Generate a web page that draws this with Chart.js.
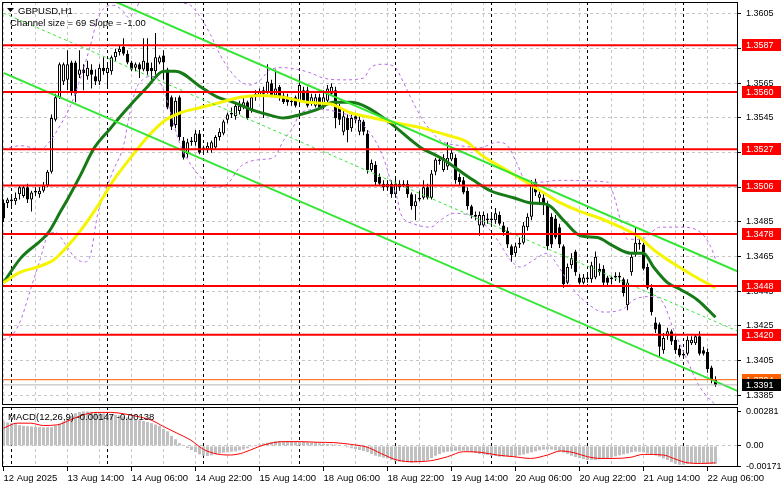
<!DOCTYPE html>
<html>
<head>
<meta charset="utf-8">
<title>GBPUSD,H1</title>
<script src="https://cdn.jsdelivr.net/npm/chart.js@4.4.1/dist/chart.umd.min.js"></script>
<style>
  html, body { margin: 0; padding: 0; background: #fff; }
  #wrap { position: relative; width: 781px; height: 489px; overflow: hidden; }
  canvas { position: absolute; left: 0; }
  #main { top: 0; }
  #macd { top: 407px; }
</style>
</head>
<body>
<div id="wrap">
  <canvas id="main" width="781" height="407"></canvas>
  <canvas id="macd" width="781" height="82"></canvas>
</div>
<script>
// H1 bars, 12 Aug 22:00 .. 22 Aug 08:00 (bar index 0..178)
const opens = [
  1.3496,1.3496,1.3497,1.3497,1.3501,1.3500,1.3505,1.3498,1.3503,1.3501,
  1.3503,1.3506,1.3514,1.3544,1.3557,1.3566,1.3567,1.3577,1.3577,1.3570,
  1.3573,1.3569,1.3573,1.3569,1.3566,1.3574,1.3571,1.3572,1.3580,1.3583,
  1.3586,1.3582,1.3577,1.3574,1.3576,1.3573,1.3577,1.3574,1.3572,1.3577,
  1.3581,1.3573,1.3557,1.3541,1.3557,1.3532,1.3524,1.3531,1.3531,1.3536,
  1.3527,1.3527,1.3527,1.3528,1.3534,1.3536,1.3544,1.3547,1.3546,1.3549,
  1.3551,1.3554,1.3550,1.3557,1.3558,1.3559,1.3560,1.3565,1.3558,1.3563,
  1.3558,1.3557,1.3554,1.3557,1.3554,1.3561,1.3561,1.3554,1.3552,1.3557,
  1.3551,1.3555,1.3559,1.3561,1.3551,1.3537,1.3545,1.3539,1.3546,1.3537,
  1.3543,1.3536,1.3515,1.3518,1.3511,1.3507,1.3505,1.3507,1.3501,1.3505,
  1.3506,1.3507,1.3501,1.3494,1.3499,1.3499,1.3505,1.3499,1.3514,1.3520,
  1.3515,1.3517,1.3521,1.3522,1.3511,1.3509,1.3503,1.3494,1.3488,1.3483,
  1.3483,1.3487,1.3487,1.3486,1.3489,1.3483,1.3480,1.3471,1.3467,1.3472,
  1.3473,1.3482,1.3488,1.3508,1.3499,1.3499,1.3495,1.3488,1.3487,1.3482,
  1.3471,1.3450,1.3460,1.3468,1.3453,1.3450,1.3452,1.3452,1.3453,1.3458,
  1.3458,1.3453,1.3452,1.3453,1.3454,1.3452,1.3437,1.3456,1.3467,1.3473,
  1.3472,1.3459,1.3447,1.3427,1.3426,1.3411,1.3419,1.3422,1.3417,1.3412,
  1.3408,1.3409,1.3415,1.3415,1.3419,1.3411,1.3410,1.3401,1.3394
];
const highs = [
  1.3498,1.3499,1.3501,1.3502,1.3506,1.3506,1.3507,1.3503,1.3505,1.3505,
  1.3508,1.3515,1.3547,1.3559,1.3577,1.3577,1.3584,1.3578,1.3578,1.3584,
  1.3576,1.3578,1.3576,1.3573,1.3576,1.3580,1.3577,1.3581,1.3585,1.3587,
  1.3591,1.3584,1.3578,1.3577,1.3577,1.3591,1.3591,1.3577,1.3594,1.3581,
  1.3584,1.3574,1.3558,1.3557,1.3558,1.3534,1.3533,1.3534,1.3538,1.3538,
  1.3529,1.3531,1.3532,1.3535,1.3539,1.3544,1.3548,1.3551,1.3554,1.3555,
  1.3557,1.3555,1.3558,1.3561,1.3562,1.3563,1.3576,1.3567,1.3573,1.3564,
  1.3560,1.3559,1.3557,1.3558,1.3569,1.3563,1.3563,1.3559,1.3559,1.3559,
  1.3561,1.3564,1.3565,1.3563,1.3553,1.3550,1.3547,1.3547,1.3547,1.3546,
  1.3544,1.3538,1.3521,1.3520,1.3513,1.3509,1.3509,1.3509,1.3510,1.3509,
  1.3509,1.3509,1.3502,1.3501,1.3503,1.3509,1.3507,1.3515,1.3522,1.3522,
  1.3524,1.3531,1.3527,1.3524,1.3513,1.3511,1.3505,1.3495,1.3491,1.3491,
  1.3491,1.3490,1.3489,1.3493,1.3491,1.3485,1.3482,1.3472,1.3473,1.3476,
  1.3485,1.3490,1.3509,1.3510,1.3503,1.3502,1.3497,1.3490,1.3489,1.3484,
  1.3472,1.3461,1.3467,1.3469,1.3455,1.3455,1.3455,1.3462,1.3468,1.3461,
  1.3460,1.3454,1.3454,1.3456,1.3456,1.3453,1.3452,1.3467,1.3482,1.3476,
  1.3473,1.3461,1.3449,1.3430,1.3427,1.3421,1.3424,1.3423,1.3419,1.3414,
  1.3411,1.3419,1.3419,1.3420,1.3422,1.3413,1.3412,1.3402,1.3396
];
const lows = [
  1.3485,1.3493,1.3494,1.3495,1.3498,1.3499,1.3496,1.3491,1.3500,1.3499,
  1.3502,1.3505,1.3513,1.3543,1.3556,1.3564,1.3561,1.3558,1.3554,1.3568,
  1.3561,1.3567,1.3562,1.3564,1.3564,1.3570,1.3562,1.3570,1.3578,1.3581,
  1.3581,1.3576,1.3572,1.3572,1.3568,1.3572,1.3570,1.3567,1.3570,1.3576,
  1.3567,1.3550,1.3538,1.3539,1.3532,1.3521,1.3522,1.3529,1.3529,1.3524,
  1.3525,1.3525,1.3525,1.3527,1.3532,1.3535,1.3542,1.3545,1.3544,1.3547,
  1.3550,1.3544,1.3548,1.3555,1.3557,1.3545,1.3559,1.3557,1.3557,1.3555,
  1.3553,1.3552,1.3552,1.3551,1.3552,1.3554,1.3551,1.3552,1.3551,1.3550,
  1.3550,1.3554,1.3558,1.3539,1.3541,1.3535,1.3531,1.3537,1.3542,1.3535,
  1.3535,1.3513,1.3514,1.3506,1.3506,1.3503,1.3503,1.3499,1.3499,1.3503,
  1.3505,1.3499,1.3492,1.3486,1.3497,1.3498,1.3498,1.3498,1.3512,1.3518,
  1.3514,1.3515,1.3520,1.3507,1.3506,1.3501,1.3492,1.3487,1.3486,1.3477,
  1.3482,1.3484,1.3484,1.3484,1.3483,1.3477,1.3470,1.3462,1.3465,1.3470,
  1.3472,1.3480,1.3486,1.3500,1.3495,1.3489,1.3469,1.3470,1.3475,1.3470,
  1.3447,1.3449,1.3458,1.3454,1.3449,1.3449,1.3450,1.3450,1.3452,1.3454,
  1.3448,1.3448,1.3449,1.3451,1.3450,1.3442,1.3434,1.3454,1.3465,1.3469,
  1.3457,1.3446,1.3431,1.3421,1.3407,1.3409,1.3417,1.3414,1.3409,1.3407,
  1.3407,1.3408,1.3414,1.3414,1.3408,1.3408,1.3398,1.3392,1.3390
];
const closes = [
  1.3487,1.3498,1.3498,1.3499,1.3505,1.3505,1.3498,1.3502,1.3502,1.3503,
  1.3506,1.3514,1.3545,1.3557,1.3576,1.3576,1.3576,1.3560,1.3559,1.3573,
  1.3571,1.3574,1.3570,1.3566,1.3574,1.3572,1.3574,1.3580,1.3583,1.3585,
  1.3582,1.3577,1.3573,1.3576,1.3573,1.3578,1.3572,1.3572,1.3580,1.3580,
  1.3577,1.3551,1.3540,1.3555,1.3534,1.3522,1.3531,1.3532,1.3536,1.3525,
  1.3528,1.3529,1.3531,1.3534,1.3537,1.3543,1.3547,1.3548,1.3552,1.3552,
  1.3554,1.3545,1.3557,1.3559,1.3560,1.3561,1.3566,1.3558,1.3562,1.3557,
  1.3554,1.3554,1.3555,1.3552,1.3564,1.3555,1.3552,1.3557,1.3557,1.3551,
  1.3557,1.3562,1.3563,1.3545,1.3544,1.3546,1.3538,1.3545,1.3544,1.3544,
  1.3537,1.3515,1.3519,1.3508,1.3507,1.3505,1.3507,1.3501,1.3507,1.3507,
  1.3507,1.3501,1.3494,1.3497,1.3498,1.3505,1.3499,1.3513,1.3521,1.3521,
  1.3522,1.3522,1.3525,1.3509,1.3508,1.3502,1.3494,1.3489,1.3489,1.3489,
  1.3489,1.3486,1.3486,1.3490,1.3484,1.3479,1.3472,1.3466,1.3471,1.3473,
  1.3483,1.3488,1.3507,1.3502,1.3501,1.3495,1.3471,1.3472,1.3476,1.3472,
  1.3449,1.3459,1.3464,1.3456,1.3450,1.3453,1.3453,1.3460,1.3465,1.3456,
  1.3450,1.3450,1.3453,1.3454,1.3453,1.3444,1.3450,1.3465,1.3473,1.3472,
  1.3458,1.3447,1.3433,1.3423,1.3413,1.3418,1.3422,1.3416,1.3411,1.3408,
  1.3409,1.3417,1.3417,1.3419,1.3409,1.3409,1.3400,1.3394,1.3391
];

// moving averages as [bar, price]
const maFast = [
  [0,1.3450],[4.25,1.3464],[11.25,1.3479],[14.25,1.3491],[16,1.3498],[19.25,1.3512],
  [22.5,1.3527],[26.75,1.3539],[30,1.3548],[36,1.3563],[40,1.3572],[43,1.3572],
  [49.25,1.3563],[53.5,1.3557],[57.5,1.3554],[61.75,1.3550],[66,1.3547],[70,1.3545],
  [74.25,1.3547],[78.5,1.3550],[82.5,1.3554],[86.75,1.3554],[91,1.3551],[96.75,1.3542],
  [104.25,1.3528],[109.25,1.3522],[117.5,1.3509],[121.75,1.3503],[127.5,1.3499],
  [131.75,1.3496],[136,1.3495],[140,1.3486],[144.25,1.3477],[148.5,1.3476],[152.5,1.3471],
  [156.75,1.3467],[160,1.3467],[162.5,1.3459],[166,1.3450],[169.25,1.3446],[173.5,1.3440],
  [178,1.3430]
];
const maSlow = [
  [0,1.3450],[4.25,1.3456],[8.5,1.3459],[12.5,1.3463],[16,1.3471],[19.25,1.3480],
  [23.5,1.3494],[27.5,1.3509],[31.75,1.3522],[36,1.3534],[40,1.3543],[44.25,1.3548],
  [49.25,1.3551],[54.25,1.3554],[59.25,1.3557],[64.25,1.3558],[70,1.3557],[76,1.3554],
  [81.75,1.3553],[86.75,1.3548],[92.5,1.3545],[98.5,1.3542],[105,1.3539],[111,1.3535],
  [116,1.3531],[119.25,1.3524],[124.25,1.3517],[129.25,1.3510],[134.25,1.3503],
  [139.25,1.3496],[144.25,1.3491],[149.25,1.3487],[154.25,1.3482],[158.5,1.3477],
  [162.5,1.3469],[167.5,1.3461],[172.5,1.3454],[178,1.3447]
];
const bbUpper = [
  [0,1.3527],[4.25,1.3529],[9.25,1.3527],[11.75,1.3532],[14.25,1.3541],[16.75,1.3552],
  [19.25,1.3568],[21.75,1.3587],[23.5,1.3602],[25,1.3608],[27.5,1.3610],[29.75,1.3607],
  [31.25,1.3603],[33,1.3608],[35.5,1.3616],[39.25,1.3616],[43,1.3612],[46.75,1.3610],
  [49.25,1.3603],[51.75,1.3593],[54.25,1.3581],[56.75,1.3572],[59.25,1.3566],[61.75,1.3564],
  [64.25,1.3567],[66.75,1.3573],[70,1.3574],[73.5,1.3573],[76.75,1.3571],[80,1.3568],
  [85,1.3567],[90,1.3568],[91.75,1.3574],[95,1.3576],[98,1.3574],[99.25,1.3569],
  [101.75,1.3557],[104.25,1.3546],[106,1.3540],[109.25,1.3532],[114.25,1.3529],
  [119.25,1.3528],[123.5,1.3531],[126,1.3529],[128.5,1.3518],[130.5,1.3509],[134.25,1.3508],
  [138.5,1.3509],[151,1.3508],[152.5,1.3501],[154.25,1.3486],[156,1.3475],[159.25,1.3475],
  [164.25,1.3482],[169.25,1.3482],[174.25,1.3479],[176.75,1.3471],[178.25,1.3462]
];
const bbLower = [
  [0,1.3417],[2.25,1.3420],[4.25,1.3428],[6.75,1.3446],[9.25,1.3464],[11,1.3477],
  [13,1.3479],[15.5,1.3472],[18,1.3464],[20.5,1.3462],[21.75,1.3466],[23.5,1.3489],
  [25.5,1.3503],[27.5,1.3515],[30,1.3529],[31.25,1.3544],[33,1.3561],[34.75,1.3567],
  [36.75,1.3569],[38.75,1.3567],[40.5,1.3558],[42.25,1.3544],[44.25,1.3529],[46,1.3521],
  [49.25,1.3511],[52.5,1.3505],[56,1.3507],[59.25,1.3517],[64.25,1.3521],[67.5,1.3522],
  [70,1.3532],[72.5,1.3540],[74.25,1.3548],[79.25,1.3550],[84.25,1.3548],[86.75,1.3546],
  [91.75,1.3536],[95,1.3522],[96.75,1.3509],[98.5,1.3498],[99.25,1.3490],[102.5,1.3484],
  [106.75,1.3482],[109.25,1.3486],[112.5,1.3490],[117.5,1.3488],[121,1.3482],[124.25,1.3472],
  [126.75,1.3463],[129.25,1.3459],[132.5,1.3463],[136,1.3467],[138.5,1.3460],[142.5,1.3446],
  [146,1.3438],[150,1.3433],[155,1.3435],[157.5,1.3440],[162.5,1.3442],[165,1.3438],
  [167.5,1.3423],[171,1.3405],[173.5,1.3392],[176,1.3384],[178.25,1.3379]
];

// regression channel (69 pips, slope -1.00 pip per bar)
const channelUpper = [[0,1.3640],[184,1.3456]];
const channelMid = [[0,1.36055],[184,1.34215]];
const channelLower = [[0,1.3571],[184,1.3387]];

const levels = [1.3587, 1.3560, 1.3527, 1.3506, 1.3478, 1.3448, 1.3420];
const alertLevel = 1.3394;
const lastPrice = 1.3391;
const priceTicks = [1.3605,1.3585,1.3565,1.3545,1.3525,1.3505,1.3485,1.3465,1.3445,1.3425,1.3405,1.3385];

// MACD(12,26,9) histogram per bar and signal line [bar, value]
const macdHist = [
  0.00200,0.00192,0.00186,0.00178,0.00170,0.00164,0.00161,0.00159,0.00156,0.00153,
  0.00153,0.00153,0.00153,0.00164,0.00181,0.00200,0.00224,0.00246,0.00268,0.00277,
  0.00282,0.00282,0.00279,0.00277,0.00271,0.00266,0.00257,0.00255,0.00255,0.00249,
  0.00241,0.00233,0.00224,0.00216,0.00211,0.00203,0.00194,0.00186,0.00175,0.00164,
  0.00140,0.00120,0.00082,0.00055,0.00022,0.00002,-0.00017,-0.00033,-0.00050,-0.00069,
  -0.00080,-0.00082,-0.00077,-0.00069,-0.00061,-0.00055,-0.00052,-0.00047,-0.00044,-0.00036,
  -0.00028,-0.00019,-0.00008,0.00003,0.00013,0.00022,0.00027,0.00033,0.00038,0.00041,
  0.00041,0.00041,0.00038,0.00035,0.00033,0.00033,0.00030,0.00027,0.00027,0.00022,
  0.00019,0.00016,0.00013,0.00011,0.00005,-0.00003,-0.00011,-0.00019,-0.00025,-0.00033,
  -0.00041,-0.00050,-0.00066,-0.00080,-0.00088,-0.00096,-0.00102,-0.00115,-0.00124,-0.00129,
  -0.00132,-0.00134,-0.00137,-0.00134,-0.00129,-0.00124,-0.00115,-0.00099,-0.00080,-0.00066,
  -0.00052,-0.00047,-0.00044,-0.00041,-0.00039,-0.00039,-0.00041,-0.00050,-0.00058,-0.00066,
  -0.00071,-0.00074,-0.00080,-0.00082,-0.00088,-0.00088,-0.00088,-0.00088,-0.00085,-0.00077,
  -0.00069,-0.00061,-0.00052,-0.00044,-0.00036,-0.00030,-0.00028,-0.00030,-0.00036,-0.00044,
  -0.00055,-0.00066,-0.00080,-0.00091,-0.00099,-0.00107,-0.00115,-0.00115,-0.00115,-0.00110,
  -0.00104,-0.00102,-0.00093,-0.00085,-0.00077,-0.00069,-0.00061,-0.00052,-0.00047,-0.00047,
  -0.00052,-0.00061,-0.00069,-0.00077,-0.00088,-0.00102,-0.00115,-0.00132,-0.00145,-0.00154,
  -0.00154,-0.00148,-0.00145,-0.00143,-0.00143,-0.00143,-0.00145,-0.00148,-0.00147
];
const macdSignal = [
  [0,0.00145],[3.4,0.00186],[6.75,0.00186],[10,0.00167],[13.4,0.00172],[16.75,0.00213],
  [20,0.00255],[23.4,0.00274],[26.75,0.00274],[30,0.00263],[33.4,0.00241],[36.75,0.00213],
  [40,0.00159],[43.4,0.00104],[46.75,0.00049],[50,-0.00028],[53.4,-0.00066],[56.75,-0.00074],
  [60,-0.00055],[63.4,-0.00011],[66.75,0.00022],[70,0.00035],[74.25,0.00035],[78.4,0.00030],
  [82.6,0.00027],[86.75,0.00013],[91,-0.00011],[94.25,-0.00060],[98.4,-0.00115],[102.6,-0.00129],
  [106.75,-0.00121],[111,-0.00088],[115,-0.00047],[119.25,-0.00052],[123.4,-0.00074],
  [127.6,-0.00088],[131.75,-0.00102],[136,-0.00074],[139.25,-0.00041],[142.6,-0.00055],
  [146,-0.00088],[149.25,-0.00102],[152.6,-0.00102],[156.75,-0.00093],[160,-0.00069],
  [165,-0.00074],[167.5,-0.00102],[170.9,-0.00137],[174.25,-0.00143],[178,-0.00138]
];
const macdTicks = [0.00281, 0, -0.00171];

const timeLabels = ['12 Aug 2025','13 Aug 14:00','14 Aug 06:00','14 Aug 22:00','15 Aug 14:00','18 Aug 06:00',
                    '18 Aug 22:00','19 Aug 14:00','20 Aug 06:00','20 Aug 22:00','21 Aug 14:00','22 Aug 06:00'];
const labelIndex = [0,16,32,48,64,80,96,112,128,144,160,176];
const daySeparators = [2,26,50,74,98,122,146,170];

const symbolTitle = 'GBPUSD,H1';
const channelText = 'Channel size = 69 Slope = -1.00';
const macdTitle = 'MACD(12,26,9) -0.00147 -0.00138';

// ---- setup ----
const FONT = '"Liberation Sans", Arial, sans-serif';
Chart.defaults.font.family = FONT;
Chart.defaults.font.size = 9;
Chart.defaults.color = '#000';
Chart.defaults.animation = false;

const X_MIN = -0.375, X_MAX = 183.375;
const GRID = '#c6c6c6';

const xTicks = [];
for (let v = 0; v <= 176; v += 8) xTicks.push(v);
daySeparators.forEach(v => xTicks.push(v));
xTicks.sort((a, b) => a - b);

const pts = arr => arr.map(p => ({x: p[0], y: p[1]}));
const hline = v => [{x: X_MIN, y: v}, {x: X_MAX, y: v}];
const line = (data, color, width, extra) => Object.assign({
  type: 'line', data: data, borderColor: color, borderWidth: width,
  pointRadius: 0, fill: false, tension: 0
}, extra || {});

const bodies = closes.map((c, i) => ({x: i, y: [opens[i], c]}));
const wicks = closes.map((c, i) => ({x: i, y: [lows[i], highs[i]]}));
const bodyColors = closes.map((c, i) => c >= opens[i] ? '#ffffff' : '#000000');

// axis labels must not push the plot area around
const noPad = s => { s.paddingTop = 0; s.paddingBottom = 0; s.paddingLeft = 0; s.paddingRight = 0; };

function xScale(showLabels) {
  return {
    type: 'linear', min: X_MIN, max: X_MAX, offset: false,
    afterBuildTicks: s => { s.ticks = xTicks.map(v => ({value: v})); },
    afterFit: s => { s.height = showLabels ? 22 : 0; noPad(s); },
    grid: {
      offset: false,
      color: c => (c.tick && daySeparators.includes(c.tick.value)) ? '#000' : GRID,
      drawTicks: showLabels,
      tickLength: 4,
      tickColor: c => (c.tick && labelIndex.includes(c.tick.value)) ? '#000' : 'rgba(0,0,0,0)'
    },
    border: { display: false, dash: [3, 3] },
    ticks: {
      display: showLabels, autoSkip: false, maxRotation: 0, minRotation: 0,
      align: 'start', padding: 2, font: { size: 9.5 },
      callback: v => { const k = labelIndex.indexOf(v); return k < 0 ? '' : timeLabels[k]; }
    }
  };
}

const mainOverlay = {
  id: 'mainOverlay',
  afterDraw(chart) {
    const {ctx, chartArea: a} = chart;
    const y = chart.scales.y;
    ctx.save();
    ctx.strokeStyle = '#000';
    ctx.lineWidth = 1;
    ctx.strokeRect(a.left + 0.5, a.top + 0.5, a.right - a.left, a.bottom - a.top - 1);

    ctx.font = '9px ' + FONT;
    ctx.textBaseline = 'middle';
    const tag = (v, bg) => {
      const py = Math.round(y.getPixelForValue(v));
      ctx.fillStyle = bg;
      ctx.fillRect(a.right + 5, py - 6, chart.width - a.right - 5, 12);
      ctx.fillStyle = '#fff';
      ctx.fillText(v.toFixed(4), a.right + 9, py + 0.5);
    };
    levels.forEach(v => tag(v, '#ff0000'));
    tag(alertLevel, '#ff6000');
    tag(lastPrice, '#000000');

    ctx.fillStyle = '#000';
    ctx.beginPath();
    ctx.moveTo(7, 8); ctx.lineTo(14, 8); ctx.lineTo(10.5, 12);
    ctx.closePath();
    ctx.fill();
    ctx.font = '9.5px ' + FONT;
    ctx.fillText(symbolTitle, 18, 11);
    ctx.fillText(channelText, 10, 23.5);
    ctx.restore();
  }
};

const macdOverlay = {
  id: 'macdOverlay',
  afterDraw(chart) {
    const {ctx, chartArea: a} = chart;
    ctx.save();
    ctx.strokeStyle = '#000';
    ctx.lineWidth = 1;
    ctx.strokeRect(a.left + 0.5, a.top + 0.5, a.right - a.left, a.bottom - a.top - 1);
    ctx.fillStyle = '#000';
    ctx.font = '9.5px ' + FONT;
    ctx.textBaseline = 'middle';
    ctx.fillText(macdTitle, 8, 10);
    ctx.restore();
  }
};

new Chart(document.getElementById('main'), {
  type: 'bar',
  data: {
    datasets: [
      ...levels.map(v => line(hline(v), '#ff0000', 2, {order: 1})),
      line(hline(alertLevel), '#ff5a00', 1, {order: 1}),
      line(hline(lastPrice), '#b4b4b4', 1, {order: 1}),
      line(pts(channelUpper), '#33e633', 2, {order: 2}),
      line(pts(channelLower), '#33e633', 2, {order: 2}),
      line(pts(channelMid), '#33e633', 1, {order: 2, borderDash: [3, 3]}),
      line(pts(maSlow), '#f5f500', 3, {order: 3, cubicInterpolationMode: 'monotone'}),
      line(pts(maFast), '#167a16', 3, {order: 3, cubicInterpolationMode: 'monotone'}),
      line(pts(bbUpper), '#b86ae8', 1, {order: 4, borderDash: [3, 3], cubicInterpolationMode: 'monotone'}),
      line(pts(bbLower), '#b86ae8', 1, {order: 4, borderDash: [3, 3], cubicInterpolationMode: 'monotone'}),
      {
        type: 'bar', data: bodies, backgroundColor: bodyColors, borderColor: '#000', borderWidth: 1,
        borderSkipped: false, barThickness: 3, grouped: false, inflateAmount: 0, minBarLength: 1, order: 5
      },
      {
        type: 'bar', data: wicks, backgroundColor: '#000', borderWidth: 0,
        barThickness: 1, grouped: false, inflateAmount: 0, order: 6
      }
    ]
  },
  options: {
    responsive: false,
    devicePixelRatio: 1,
    events: [],
    layout: { padding: { left: 2, top: 2, right: 0, bottom: 2 } },
    plugins: { legend: { display: false }, tooltip: { enabled: false } },
    scales: {
      x: xScale(false),
      y: {
        position: 'right', min: 1.33794, max: 1.36119,
        afterBuildTicks: s => { s.ticks = priceTicks.map(v => ({value: v})); },
        afterFit: s => { s.width = 44; noPad(s); },
        grid: { color: GRID, tickLength: 4, tickColor: '#000' },
        border: { display: false, dash: [3, 3] },
        ticks: { autoSkip: false, padding: 5, font: { size: 9 }, callback: v => v.toFixed(4) }
      }
    }
  },
  plugins: [mainOverlay]
});

new Chart(document.getElementById('macd'), {
  type: 'bar',
  data: {
    datasets: [
      line(pts(macdSignal), '#ff0000', 1, {order: 1, cubicInterpolationMode: 'monotone'}),
      {
        type: 'bar', data: macdHist.map((v, i) => ({x: i, y: v})), backgroundColor: '#c0c0c0',
        borderWidth: 0, barThickness: 3, grouped: false, inflateAmount: 0, order: 2
      }
    ]
  },
  options: {
    responsive: false,
    devicePixelRatio: 1,
    events: [],
    layout: { padding: { left: 2, top: 0, right: 0, bottom: 0 } },
    plugins: { legend: { display: false }, tooltip: { enabled: false } },
    scales: {
      x: xScale(true),
      y: {
        position: 'right', min: -0.00172, max: 0.00318,
        afterBuildTicks: s => { s.ticks = macdTicks.map(v => ({value: v})); },
        afterFit: s => { s.width = 44; noPad(s); },
        grid: {
          color: c => (c.tick && c.tick.value === 0) ? GRID : 'rgba(0,0,0,0)',
          tickLength: 4, tickColor: '#000'
        },
        border: { display: false, dash: [3, 3] },
        ticks: { autoSkip: false, padding: 5, font: { size: 9 },
                 callback: v => v === 0 ? '0.00' : v.toFixed(5) }
      }
    }
  },
  plugins: [macdOverlay]
});
</script>
</body>
</html>
